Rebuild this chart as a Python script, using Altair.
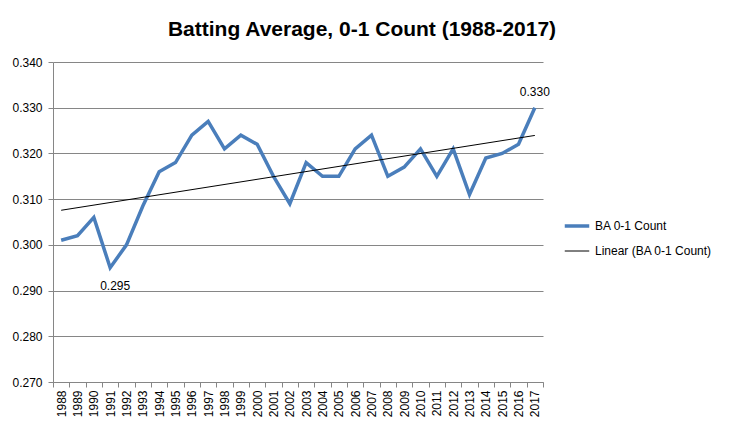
import altair as alt
import pandas as pd

years = list(range(1988, 2018))
ba = [0.301, 0.302, 0.306, 0.295, 0.300, 0.3085, 0.316, 0.318, 0.324, 0.327,
      0.321, 0.324, 0.322, 0.315, 0.309, 0.318, 0.315, 0.315, 0.321, 0.324,
      0.315, 0.317, 0.321, 0.315, 0.321, 0.311, 0.319, 0.320, 0.322, 0.330]
label_years = [1991, 2017]
series_names = ["BA 0-1 Count", "Linear (BA 0-1 Count)"]
y_ticks = [0.27, 0.28, 0.29, 0.30, 0.31, 0.32, 0.33, 0.34]

df = pd.DataFrame({"year": years, "ba": ba})
df["show"] = df["year"].isin(label_years)
df["pos"] = ["below" if y == 1991 else "above" for y in years]

FONT = "Liberation Sans"

x = alt.X("year:O", scale=alt.Scale(type="band", domain=years, paddingInner=0, paddingOuter=0),
          axis=alt.Axis(labelAngle=-90, grid=False, title=None, tickBand="extent",
                        labelFont=FONT, labelFontSize=12, labelColor="#000",
                        domainColor="#868686", tickColor="#868686", tickSize=5, labelPadding=3,
                        labelAlign="right", labelBaseline="middle"))
y = alt.Y("ba:Q", scale=alt.Scale(domain=[0.27, 0.34], nice=False, zero=False),
          axis=alt.Axis(values=y_ticks, format=".3f", grid=True, gridColor="#868686",
                        title=None, labelFont=FONT, labelFontSize=12, labelColor="#000",
                        domainColor="#868686", tickColor="#868686", tickSize=5, labelPadding=6))

color = alt.Color("series:N", scale=alt.Scale(domain=series_names, range=["#4A7EBB", "#000000"]),
                  legend=alt.Legend(title=None, orient="none", legendX=510, legendY=150,
                                    symbolType="stroke", symbolSize=600, labelFont=FONT,
                                    labelFontSize=12, labelColor="#000", rowPadding=5,
                                    symbolStrokeWidth=3))
sw = alt.StrokeWidth("series:N", scale=alt.Scale(domain=series_names, range=[3.5, 1]), legend=None)

base = alt.Chart(df)

main = base.transform_calculate(series="'BA 0-1 Count'").mark_line().encode(
    x=x, y=y, color=color, strokeWidth=sw)

trend = base.transform_regression("year", "ba").transform_calculate(
    series="'Linear (BA 0-1 Count)'").mark_line().encode(x=x, y=y, color=color, strokeWidth=sw)

lab_below = base.transform_filter("datum.show && datum.pos == 'below'").mark_text(
    dy=18, dx=5, font=FONT, fontSize=12, color="#000").encode(
    x=x, y=y, text=alt.Text("ba:Q", format=".3f"))
lab_above = base.transform_filter("datum.show && datum.pos == 'above'").mark_text(
    dy=-16, font=FONT, fontSize=12, color="#000").encode(
    x=x, y=y, text=alt.Text("ba:Q", format=".3f"))

chart = alt.layer(main, trend, lab_below, lab_above).properties(
    width=490, height=320,
    autosize=alt.AutoSizeParams(type="none"),
    padding={"left": 45, "top": 54, "right": 180, "bottom": 43},
    background="white",
    title=alt.TitleParams("Batting Average, 0-1 Count (1988-2017)", font=FONT, fontSize=21,
                          fontWeight="bold", color="#000", anchor="middle", dx=64, offset=16),
).configure_view(stroke=None)

chart.save("out.html", embed_options={"renderer": "svg", "actions": False})
